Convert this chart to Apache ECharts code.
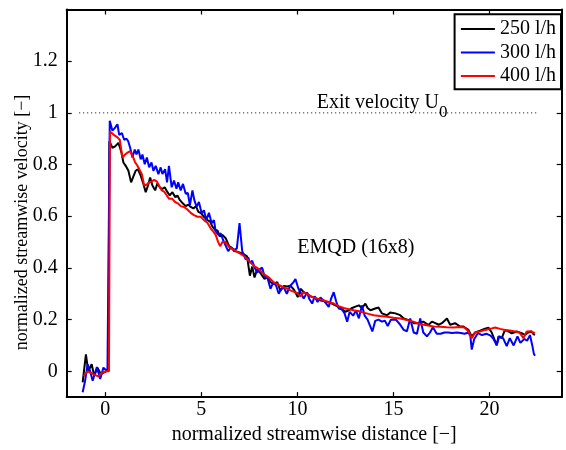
<!DOCTYPE html>
<html>
<head>
<meta charset="utf-8">
<script src="https://cdn.jsdelivr.net/npm/echarts@6/dist/echarts.min.js"></script>
<style>
  html, body { margin: 0; padding: 0; background: #fff; }
  #chart { width: 566px; height: 450px; }
</style>
</head>
<body>
<div id="chart"></div>
<script>
// Streamwise velocity decay along the jet axis, three flow rates.
const flow250 = [[-1.17,-0.043],[-1.00,0.065],[-0.88,0.000],[-0.70,0.027],[-0.57,-0.018],[-0.40,0.014],[-0.22,-0.011],[0.04,0.000],[0.17,0.005],[0.22,0.890],[0.38,0.865],[0.52,0.870],[0.69,0.884],[0.83,0.852],[0.95,0.808],[1.07,0.795],[1.21,0.776],[1.35,0.731],[1.45,0.750],[1.59,0.776],[1.70,0.782],[1.85,0.757],[1.99,0.725],[2.11,0.693],[2.23,0.719],[2.34,0.750],[2.46,0.719],[2.60,0.700],[2.72,0.727],[2.86,0.710],[2.98,0.706],[3.10,0.712],[3.24,0.693],[3.36,0.681],[3.50,0.693],[3.64,0.674],[3.76,0.680],[3.89,0.662],[4.05,0.649],[4.19,0.639],[4.32,0.645],[4.45,0.636],[4.59,0.630],[4.72,0.639],[4.85,0.617],[4.98,0.612],[5.14,0.598],[5.32,0.585],[5.46,0.579],[5.58,0.560],[5.72,0.547],[5.84,0.545],[5.96,0.522],[6.10,0.528],[6.27,0.515],[6.45,0.484],[6.58,0.478],[6.71,0.465],[6.90,0.462],[7.05,0.458],[7.22,0.452],[7.38,0.445],[7.53,0.370],[7.65,0.405],[7.77,0.363],[7.91,0.395],[8.08,0.380],[8.29,0.357],[8.45,0.365],[8.60,0.345],[8.77,0.338],[8.95,0.345],[9.12,0.312],[9.29,0.330],[9.47,0.328],[9.64,0.331],[9.83,0.315],[10.02,0.287],[10.16,0.319],[10.35,0.305],[10.51,0.300],[10.68,0.290],[10.85,0.285],[11.02,0.280],[11.20,0.274],[11.37,0.272],[11.55,0.268],[11.72,0.265],[11.98,0.255],[12.07,0.249],[12.24,0.245],[12.50,0.230],[12.67,0.236],[12.85,0.245],[13.02,0.250],[13.20,0.255],[13.36,0.245],[13.54,0.262],[13.65,0.245],[13.80,0.236],[14.05,0.243],[14.22,0.247],[14.40,0.224],[14.66,0.217],[14.83,0.227],[15.10,0.224],[15.35,0.217],[15.53,0.204],[15.80,0.198],[16.05,0.186],[16.30,0.186],[16.55,0.192],[16.82,0.179],[17.00,0.192],[17.18,0.186],[17.35,0.180],[17.52,0.186],[17.78,0.204],[17.95,0.180],[18.20,0.186],[18.47,0.173],[18.64,0.173],[18.90,0.160],[19.07,0.135],[19.25,0.150],[19.50,0.157],[19.76,0.165],[19.94,0.169],[20.11,0.150],[20.37,0.100],[20.46,0.135],[20.63,0.128],[20.80,0.160],[20.98,0.154],[21.15,0.147],[21.41,0.154],[21.67,0.147],[21.84,0.141],[22.01,0.150],[22.18,0.154],[22.27,0.144],[22.36,0.141]];

const flow300 = [[-1.17,-0.081],[-1.05,-0.040],[-0.91,0.027],[-0.78,0.000],[-0.65,-0.037],[-0.43,0.016],[-0.26,-0.030],[-0.09,0.014],[0.12,0.000],[0.20,0.000],[0.24,0.969],[0.38,0.931],[0.50,0.941],[0.64,0.956],[0.73,0.915],[0.87,0.922],[0.99,0.896],[1.11,0.900],[1.20,0.890],[1.30,0.865],[1.42,0.827],[1.54,0.858],[1.63,0.839],[1.73,0.858],[1.85,0.820],[1.94,0.839],[2.06,0.801],[2.17,0.827],[2.29,0.789],[2.41,0.808],[2.51,0.776],[2.63,0.795],[2.77,0.763],[2.89,0.789],[2.98,0.763],[3.12,0.782],[3.22,0.731],[3.32,0.795],[3.46,0.712],[3.58,0.738],[3.71,0.706],[3.80,0.731],[3.93,0.700],[4.05,0.725],[4.19,0.687],[4.30,0.690],[4.41,0.643],[4.54,0.700],[4.64,0.662],[4.76,0.636],[4.88,0.655],[5.02,0.611],[5.14,0.623],[5.26,0.585],[5.40,0.613],[5.54,0.573],[5.66,0.585],[5.75,0.541],[5.89,0.528],[6.01,0.534],[6.13,0.509],[6.23,0.503],[6.40,0.465],[6.55,0.480],[6.70,0.470],[6.85,0.475],[6.99,0.573],[7.13,0.465],[7.31,0.433],[7.45,0.440],[7.52,0.420],[7.65,0.427],[7.78,0.400],[7.91,0.382],[8.05,0.395],[8.17,0.401],[8.30,0.365],[8.45,0.360],[8.60,0.319],[8.75,0.345],[8.90,0.330],[9.03,0.300],[9.15,0.318],[9.29,0.325],[9.45,0.300],[9.62,0.330],[9.80,0.345],[9.90,0.357],[10.05,0.320],[10.20,0.300],[10.33,0.281],[10.50,0.305],[10.62,0.280],[10.77,0.262],[10.90,0.290],[11.05,0.268],[11.20,0.285],[11.35,0.275],[11.50,0.262],[11.63,0.249],[11.75,0.280],[11.89,0.306],[12.02,0.270],[12.15,0.243],[12.30,0.240],[12.45,0.225],[12.59,0.192],[12.72,0.230],[12.90,0.215],[13.05,0.235],[13.20,0.205],[13.36,0.255],[13.50,0.215],[13.65,0.200],[13.80,0.173],[13.90,0.154],[14.05,0.195],[14.22,0.200],[14.40,0.192],[14.55,0.196],[14.70,0.175],[14.85,0.198],[15.00,0.200],[15.15,0.198],[15.35,0.180],[15.53,0.160],[15.70,0.155],[15.87,0.204],[16.05,0.150],[16.22,0.145],[16.39,0.204],[16.55,0.150],[16.74,0.135],[16.90,0.150],[17.05,0.170],[17.25,0.145],[17.45,0.145],[17.65,0.150],[17.85,0.150],[18.05,0.148],[18.30,0.150],[18.50,0.148],[18.70,0.145],[18.90,0.150],[19.00,0.135],[19.07,0.084],[19.20,0.125],[19.40,0.148],[19.60,0.140],[19.85,0.145],[20.05,0.138],[20.20,0.125],[20.37,0.102],[20.50,0.135],[20.70,0.128],[20.89,0.097],[21.05,0.128],[21.25,0.100],[21.45,0.135],[21.60,0.110],[21.80,0.125],[21.95,0.118],[22.10,0.140],[22.22,0.100],[22.30,0.068],[22.36,0.060]];

const flow400 = [[-1.12,-0.018],[-0.90,0.000],[-0.65,-0.010],[-0.36,-0.020],[-0.14,-0.005],[0.08,0.000],[0.20,0.000],[0.25,0.928],[0.45,0.915],[0.64,0.905],[0.76,0.896],[0.90,0.827],[1.04,0.839],[1.16,0.846],[1.30,0.852],[1.45,0.830],[1.55,0.810],[1.68,0.795],[1.91,0.763],[2.03,0.719],[2.15,0.722],[2.29,0.731],[2.43,0.735],[2.55,0.741],[2.68,0.735],[2.80,0.719],[2.94,0.700],[3.07,0.695],[3.20,0.681],[3.32,0.668],[3.48,0.668],[3.64,0.655],[3.78,0.650],[3.93,0.639],[4.10,0.636],[4.28,0.626],[4.45,0.613],[4.62,0.604],[4.80,0.598],[4.97,0.598],[5.14,0.585],[5.32,0.575],[5.49,0.553],[5.62,0.541],[5.75,0.528],[5.88,0.500],[5.98,0.484],[6.10,0.500],[6.27,0.500],[6.45,0.480],[6.70,0.470],[6.96,0.458],[7.22,0.446],[7.48,0.427],[7.74,0.408],[8.00,0.395],[8.26,0.376],[8.52,0.363],[8.77,0.344],[9.03,0.334],[9.25,0.326],[9.47,0.319],[9.73,0.310],[9.99,0.303],[10.16,0.290],[10.33,0.306],[10.60,0.295],[10.85,0.285],[11.10,0.280],[11.37,0.274],[11.63,0.268],[11.89,0.262],[12.15,0.252],[12.41,0.245],[12.67,0.240],[12.93,0.236],[13.20,0.232],[13.45,0.227],[13.70,0.222],[13.97,0.217],[14.30,0.214],[14.66,0.211],[15.00,0.207],[15.35,0.204],[15.70,0.198],[16.04,0.192],[16.39,0.182],[16.73,0.178],[17.08,0.173],[17.42,0.172],[17.77,0.170],[18.12,0.169],[18.46,0.171],[18.70,0.169],[18.90,0.154],[19.07,0.128],[19.25,0.150],[19.50,0.154],[19.77,0.160],[20.03,0.164],[20.29,0.169],[20.55,0.164],[20.80,0.160],[21.05,0.158],[21.32,0.154],[21.55,0.150],[21.76,0.128],[21.93,0.154],[22.15,0.155],[22.36,0.147]];

// Reference level at the nozzle exit velocity
const exitLevel = [[-1.35, 1], [22.5, 1]];

const seriesNames = ['250 l/h', '300 l/h', '400 l/h'];
const seriesColors = ['#000000', '#0000ff', '#ff0000'];
const xTicks = [0, 5, 10, 15, 20];
const yTicks = [0, 0.2, 0.4, 0.6, 0.8, 1, 1.2];

const FONT = 'Liberation Serif';

const chart = echarts.init(document.getElementById('chart'), null, { renderer: 'canvas' });

function xAxisDef(pos, showLabels) {
  return {
    type: 'value', position: pos, min: -2, max: 23.75,
    axisLine: { show: true, onZero: false, lineStyle: { color: '#000', width: 2 } },
    axisTick: { show: true, inside: true, length: 5, customValues: xTicks, lineStyle: { color: '#000', width: 1.2 } },
    axisLabel: { show: showLabels, customValues: xTicks, margin: 3, color: '#000', fontFamily: FONT, fontSize: 20 },
    splitLine: { show: false }
  };
}
function yAxisDef(pos, showLabels) {
  return {
    type: 'value', position: pos, min: -0.1, max: 1.4,
    axisLine: { show: true, onZero: false, lineStyle: { color: '#000', width: 2 } },
    axisTick: { show: true, inside: true, length: 5, customValues: yTicks, lineStyle: { color: '#000', width: 1.2 } },
    axisLabel: { show: showLabels, customValues: yTicks, margin: 9, color: '#000', fontFamily: FONT, fontSize: 20,
      formatter: v => String(Math.round(v * 10) / 10) },
    splitLine: { show: false }
  };
}

const xBottom = xAxisDef('bottom', true);
xBottom.name = 'normalized streamwise distance [\u2212]';
xBottom.nameLocation = 'middle';
xBottom.nameGap = 24;
xBottom.nameTextStyle = { color: '#000', fontFamily: FONT, fontSize: 20 };

const option = {
  animation: false,
  backgroundColor: '#fff',
  grid: { left: 66.7, right: 4.3, top: 9.5, bottom: 46.7, containLabel: false },
  xAxis: [xBottom, xAxisDef('top', false)],
  yAxis: [yAxisDef('left', true), yAxisDef('right', false)],
  legend: {
    data: seriesNames,
    orient: 'vertical',
    right: 5,
    top: 14.3,
    padding: [4.7, 5, 3.3, 6.3],
    icon: 'rect',
    itemWidth: 34,
    itemHeight: 2,
    itemGap: 3.5,
    backgroundColor: '#fff',
    borderColor: '#000',
    borderWidth: 2,
    borderRadius: 0,
    textStyle: { color: '#000', fontFamily: FONT, fontSize: 20, lineHeight: 20 }
  },
  series: [
    {
      name: 'exit', type: 'line', data: exitLevel, symbol: 'none', silent: true,
      lineStyle: { color: '#000', width: 1, type: [1, 3] }, z: 1
    },
    ...[flow250, flow300, flow400].map((d, i) => ({
      name: seriesNames[i], type: 'line', data: d, symbol: 'none',
      lineStyle: { color: seriesColors[i], width: 2 }, itemStyle: { color: seriesColors[i] },
      z: 2 + i
    }))
  ],
  graphic: [
    { type: 'text', x: 316.7, y: 112.5, style: { text: 'Exit velocity U', fill: '#000', font: '20px "Liberation Serif"', verticalAlign: 'bottom' } },
    { type: 'text', x: 439, y: 121, style: { text: '0', fill: '#000', font: '17px "Liberation Serif"', verticalAlign: 'bottom' } },
    { type: 'text', x: 297.3, y: 257.5, style: { text: 'EMQD (16x8)', fill: '#000', font: '20px "Liberation Serif"', verticalAlign: 'bottom' } },
    { type: 'text', x: 22, y: 222.5, rotation: Math.PI / 2,
      style: { text: 'normalized streamwise velocity [\u2212]', fill: '#000', font: '18px "Liberation Serif"', align: 'center', verticalAlign: 'middle' } }
  ]
};

chart.setOption(option);
</script>
</body>
</html>
